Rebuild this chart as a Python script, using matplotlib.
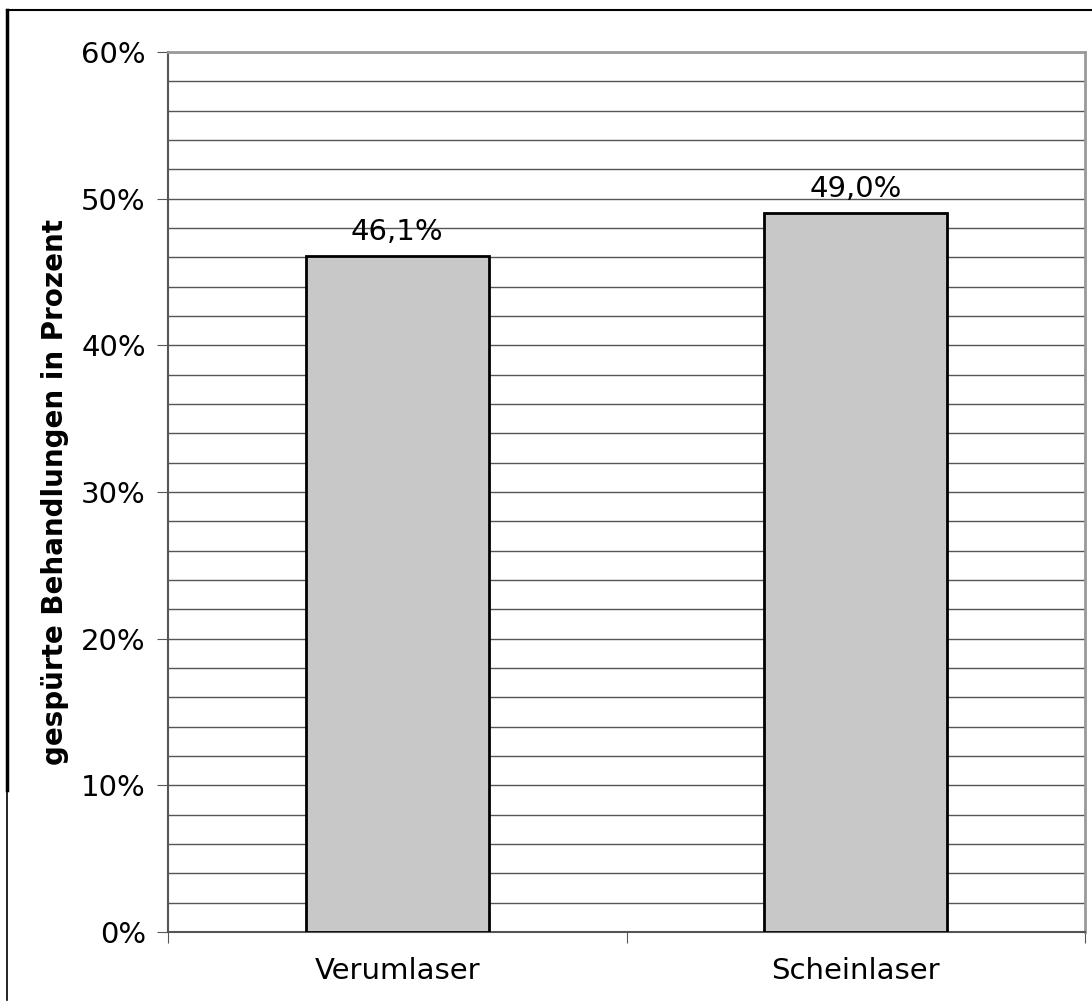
import matplotlib
matplotlib.use("Agg")
import matplotlib.pyplot as plt
from matplotlib.lines import Line2D
from matplotlib.ticker import MultipleLocator, FuncFormatter

categories = ["Verumlaser", "Scheinlaser"]
values = [46.1, 49.0]
value_labels = ["46,1%", "49,0%"]

plt.rcParams['font.family'] = ['DejaVu Sans']
W, H = 1092, 1007
fig = plt.figure(figsize=(W/100, H/100), dpi=100)
ax = fig.add_axes([168/W, 1-932/H, (1085-168)/W, (932-52)/H])

x = list(range(len(categories)))
ax.bar(x, values, width=0.4, color='#C8C8C8', edgecolor='black', linewidth=2, zorder=3)
for xi, v, lab in zip(x, values, value_labels):
    ax.text(xi, v + 0.7, lab, ha='center', va='bottom', fontsize=21, zorder=4)

ax.set_xlim(-0.5, 1.5)
ax.set_ylim(0, 60)
ax.yaxis.set_major_locator(MultipleLocator(10))
ax.yaxis.set_minor_locator(MultipleLocator(2))
ax.yaxis.set_major_formatter(FuncFormatter(lambda v, p: f"{int(round(v))}%"))
ax.grid(axis='y', which='both', color='#555555', linewidth=1, zorder=0)
ax.set_axisbelow(True)

ax.set_xticks([-0.5, 0.5, 1.5])
ax.set_xticklabels([])
ax.set_xticks(x, minor=True)
ax.set_xticklabels(categories, minor=True, fontsize=21)
ax.tick_params(axis='x', which='minor', length=0, pad=18)
ax.tick_params(axis='x', which='major', length=8, direction='out', color='#555555')
ax.tick_params(axis='y', which='major', length=8, direction='out', labelsize=21, pad=8, color='#555555')
ax.tick_params(axis='y', which='minor', length=0)

for s in ['left', 'bottom']:
    ax.spines[s].set_color('#555555')
    ax.spines[s].set_linewidth(1.5)
ax.spines['right'].set_color('#999999')
ax.spines['right'].set_linewidth(2)
ax.spines['top'].set_color('#999999')
ax.spines['top'].set_linewidth(2)

ax.set_ylabel("gespürte Behandlungen in Prozent", fontsize=20, fontweight='bold', labelpad=9)

# outer frame
fig.add_artist(Line2D([7/W, 1.0], [1-10/H, 1-10/H], color='black', linewidth=1.5, transform=fig.transFigure))
fig.add_artist(Line2D([7/W, 7/W], [1-10/H, 1-790/H], color='black', linewidth=2.5, transform=fig.transFigure))
fig.add_artist(Line2D([7/W, 7/W], [1-790/H, 1-1000/H], color='black', linewidth=1.2, transform=fig.transFigure))

fig.savefig("out.png", dpi=100, facecolor='white')
